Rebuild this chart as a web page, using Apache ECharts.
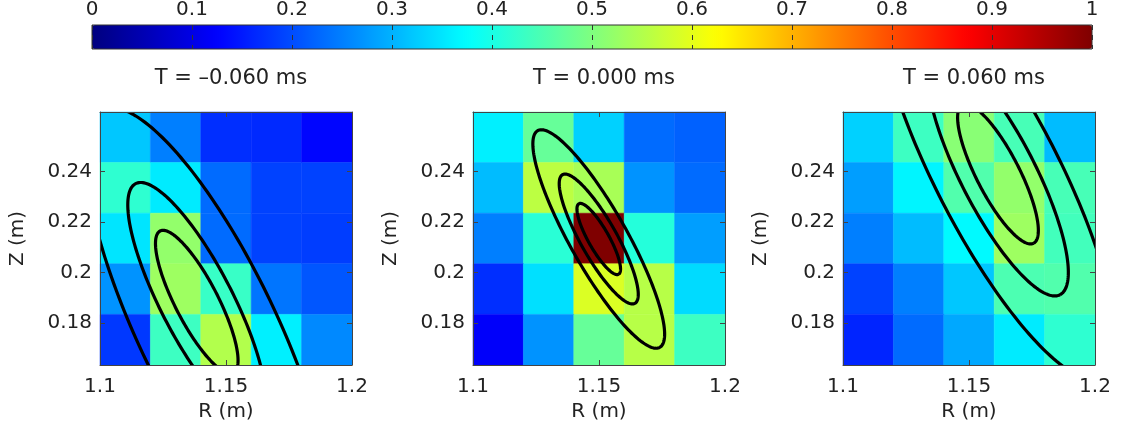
<!DOCTYPE html>
<html>
<head>
<meta charset="utf-8">
<script src="https://cdn.jsdelivr.net/npm/echarts@6/dist/echarts.min.js"></script>
<style>
  html, body { margin: 0; padding: 0; background: #fff; }
  #chart { width: 1127px; height: 434px; }
</style>
</head>
<body>
<div id="chart"></div>
<script>
// pixel centres of the 5x5 camera grid (m)
const rCentres = [1.11, 1.13, 1.15, 1.17, 1.19];
const zCentres = [0.2535, 0.2335, 0.2135, 0.1935, 0.1735]; // top row first
const zTicks = [0.18, 0.2, 0.22, 0.24];

// normalised intensity, rows from top to bottom
const frameBefore = [
  [0.32, 0.25, 0.17, 0.165, 0.13],
  [0.42, 0.355, 0.23, 0.19, 0.19],
  [0.35, 0.52, 0.23, 0.19, 0.185],
  [0.27, 0.53, 0.43, 0.24, 0.21],
  [0.18, 0.435, 0.55, 0.36, 0.26]
];
const framePeak = [
  [0.36, 0.475, 0.33, 0.23, 0.22],
  [0.31, 0.56, 0.54, 0.27, 0.23],
  [0.25, 0.415, 1.0, 0.41, 0.28],
  [0.17, 0.345, 0.59, 0.555, 0.34],
  [0.12, 0.27, 0.475, 0.555, 0.435]
];
const frameAfter = [
  [0.33, 0.435, 0.51, 0.445, 0.31],
  [0.28, 0.365, 0.455, 0.52, 0.445],
  [0.25, 0.31, 0.37, 0.53, 0.44],
  [0.19, 0.25, 0.32, 0.45, 0.455],
  [0.16, 0.23, 0.29, 0.355, 0.42]
];
const frames = [frameBefore, framePeak, frameAfter];
const titles = ['T = \u20130.060 ms', 'T = 0.000 ms', 'T = 0.060 ms'];

// fitted contour ellipses, inner to outer: centre R, centre Z, tilt (deg), semi-axes (m)
const contourR = [[1.1384, 1.1384, 1.1429], [1.1499, 1.1499, 1.1499], [1.1615, 1.1615, 1.1612]];
const contourZ = [[0.1884, 0.1884, 0.1771], [0.2133, 0.2133, 0.2133], [0.2390, 0.2390, 0.2392]];
const contourTilt = [[-62.6, -62.6, -64.3], [-60.5, -60.5, -60.5], [-62.7, -62.7, -62.7]];
const contourMajor = [[0.0316, 0.0527, 0.0970], [0.0160, 0.0292, 0.0492], [0.0308, 0.0537, 0.0909]];
const contourMinor = [[0.0085, 0.0143, 0.0273], [0.0041, 0.0072, 0.0113], [0.0085, 0.0148, 0.0245]];

const jet = ['#00007f', '#0000ff', '#007fff', '#00ffff', '#7fff7f', '#ffff00', '#ff7f00', '#ff0000', '#7f0000'];
const font = 'DejaVu Sans';
const ink = '#222';
const lefts = [100, 473, 843];
const plotTop = 112, plotWidth = 252, plotHeight = 253;
const cellHalf = 0.01;

const chart = echarts.init(document.getElementById('chart'));

function cellItem(params, api) {
  const r = api.value(0), z = api.value(1);
  const p1 = api.coord([r - cellHalf, z + cellHalf]);
  const p2 = api.coord([r + cellHalf, z - cellHalf]);
  return {
    type: 'rect',
    shape: { x: p1[0], y: p1[1], width: p2[0] - p1[0], height: p2[1] - p1[1] },
    style: { fill: api.visual('color'), stroke: api.visual('color'), lineWidth: 0.5 }
  };
}

function ellipseItem(params, api) {
  const r0 = api.value(0), z0 = api.value(1);
  const a = api.value(2), b = api.value(3);
  const th = api.value(4) * Math.PI / 180;
  const pts = [];
  for (let k = 0; k <= 200; k++) {
    const t = k / 200 * 2 * Math.PI;
    const dr = a * Math.cos(t) * Math.cos(th) - b * Math.sin(t) * Math.sin(th);
    const dz = a * Math.cos(t) * Math.sin(th) + b * Math.sin(t) * Math.cos(th);
    pts.push(api.coord([r0 + dr, z0 + dz]));
  }
  const cs = params.coordSys;
  return {
    type: 'polyline',
    shape: { points: pts },
    style: { fill: null, stroke: '#000', lineWidth: 3.2 },
    clipPath: { type: 'rect', shape: { x: cs.x, y: cs.y, width: cs.width, height: cs.height } }
  };
}

const grids = [], xAxes = [], yAxes = [], series = [], titleList = [];
const tickStyle = { show: true, inside: true, length: 5, lineStyle: { color: '#444' } };
const lineStyle = { show: true, onZero: false, lineStyle: { color: '#444', width: 1 } };

for (let i = 0; i < 3; i++) {
  grids.push({ left: lefts[i], top: plotTop, width: plotWidth, height: plotHeight });
  titleList.push({
    text: titles[i], left: lefts[i] + plotWidth / 2, top: 63, textAlign: 'center',
    textStyle: { fontFamily: font, fontSize: 21, fontWeight: 'normal', color: ink }
  });
}
for (let i = 0; i < 3; i++) {
  xAxes.push({
    type: 'value', gridIndex: i, min: 1.1, max: 1.2, interval: 0.05, position: 'bottom', z: 5,
    name: 'R (m)', nameLocation: 'middle', nameGap: 37,
    nameTextStyle: { fontFamily: font, fontSize: 20, color: ink },
    axisLine: lineStyle, axisTick: tickStyle, splitLine: { show: false },
    axisLabel: { fontFamily: font, fontSize: 20, color: ink, margin: 12 }
  });
  yAxes.push({
    type: 'value', gridIndex: i, min: 0.1635, max: 0.2635, position: 'left', z: 5,
    name: 'Z (m)', nameLocation: 'middle', nameGap: 72,
    nameTextStyle: { fontFamily: font, fontSize: 20, color: ink },
    axisLine: lineStyle, axisTick: Object.assign({ customValues: zTicks }, tickStyle),
    splitLine: { show: false },
    axisLabel: { fontFamily: font, fontSize: 20, color: ink, margin: 8, customValues: zTicks }
  });
}
for (let i = 0; i < 3; i++) {
  xAxes.push({
    type: 'value', gridIndex: i, min: 1.1, max: 1.2, interval: 0.05, position: 'top', z: 5,
    axisLine: lineStyle, axisTick: tickStyle, axisLabel: { show: false }, splitLine: { show: false }
  });
  yAxes.push({
    type: 'value', gridIndex: i, min: 0.1635, max: 0.2635, position: 'right', z: 5,
    axisLine: lineStyle, axisTick: Object.assign({ customValues: zTicks }, tickStyle),
    axisLabel: { show: false }, splitLine: { show: false }
  });
}

// colour bar frame, ticks and labels
grids.push({ left: 92, top: 25, width: 1000, height: 24, show: true, borderColor: '#333', borderWidth: 1, z: 10 });
xAxes.push({
  type: 'value', gridIndex: 3, min: 0, max: 1, interval: 0.1, position: 'top', z: 10,
  axisLine: { show: false }, axisTick: { show: false },
  axisLabel: { fontFamily: font, fontSize: 20, color: ink, margin: 5 },
  splitLine: { show: true, lineStyle: { color: '#333', width: 1, type: [5, 5] } }
});
yAxes.push({ type: 'value', gridIndex: 3, min: 0, max: 1, show: false });

for (let i = 0; i < 3; i++) {
  const data = [];
  frames[i].forEach((row, ri) => row.forEach((v, ci) => data.push([rCentres[ci], zCentres[ri], v])));
  series.push({
    type: 'custom', xAxisIndex: i, yAxisIndex: i, renderItem: cellItem, silent: true,
    encode: { x: 0, y: 1 }, data: data, z: 1
  });
}
for (let i = 0; i < 3; i++) {
  const data = contourMajor[i].map((a, k) =>
    [contourR[i][k], contourZ[i][k], a, contourMinor[i][k], contourTilt[i][k]]);
  series.push({
    type: 'custom', xAxisIndex: i, yAxisIndex: i, renderItem: ellipseItem, silent: true,
    encode: { x: 0, y: 1 }, data: data, z: 3
  });
}

chart.setOption({
  animation: false,
  backgroundColor: '#fff',
  title: titleList,
  grid: grids,
  xAxis: xAxes,
  yAxis: yAxes,
  visualMap: {
    type: 'continuous', min: 0, max: 1, seriesIndex: [0, 1, 2], dimension: 2,
    orient: 'horizontal', left: 92, top: 25, itemWidth: 24, itemHeight: 1000,
    padding: 0, calculable: false, hoverLink: false, showLabel: false, text: null,
    inRange: { color: jet }
  },
  series: series
});
</script>
</body>
</html>
